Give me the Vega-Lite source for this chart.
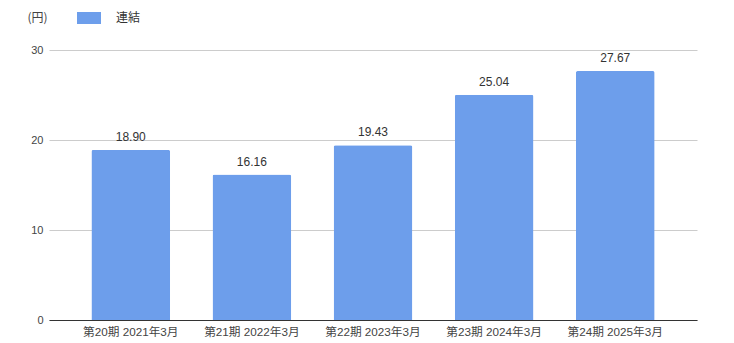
{
  "$schema": "https://vega.github.io/schema/vega-lite/v6.json",
  "width": 648,
  "height": 270,
  "autosize": {"type": "none"},
  "padding": {"left": 49, "top": 50, "right": 37, "bottom": 23},
  "background": "white",
  "config": {
    "view": {"stroke": null},
    "font": "Liberation Sans, Noto Sans CJK JP, sans-serif"
  },
  "data": {
    "values": [
      {"period": "第20期 2021年3月", "series": "連結", "value": 18.90},
      {"period": "第21期 2022年3月", "series": "連結", "value": 16.16},
      {"period": "第22期 2023年3月", "series": "連結", "value": 19.43},
      {"period": "第23期 2024年3月", "series": "連結", "value": 25.04},
      {"period": "第24期 2025年3月", "series": "連結", "value": 27.67}
    ]
  },
  "encoding": {
    "x": {
      "field": "period",
      "type": "nominal",
      "sort": null,
      "scale": {"paddingInner": 0.35, "paddingOuter": 0.35},
      "axis": {
        "title": null,
        "labelAngle": 0,
        "ticks": false,
        "domainColor": "#333333",
        "labelColor": "#444444",
        "labelFontSize": 11.7,
        "labelPadding": 6,
        "labelFont": "Liberation Sans, Noto Sans CJK JP, sans-serif"
      }
    },
    "y": {
      "field": "value",
      "type": "quantitative",
      "scale": {"domain": [0, 30]},
      "axis": {
        "title": "(円)",
        "titleAngle": 0,
        "titleAlign": "left",
        "titleBaseline": "middle",
        "titleX": -22,
        "titleY": -33,
        "titleFontSize": 12,
        "titleFontWeight": "normal",
        "titleColor": "#444444",
        "titleFont": "Noto Sans CJK JP, sans-serif",
        "values": [0, 10, 20, 30],
        "ticks": false,
        "domain": false,
        "gridColor": "#cccccc",
        "labelColor": "#444444",
        "labelFontSize": 11,
        "labelPadding": 6
      }
    }
  },
  "layer": [
    {
      "mark": {"type": "bar", "cornerRadiusTopLeft": 2, "cornerRadiusTopRight": 2},
      "encoding": {
        "color": {
          "field": "series",
          "type": "nominal",
          "scale": {"range": ["#6d9eeb"]},
          "legend": {
            "title": null,
            "orient": "none",
            "legendX": 28,
            "legendY": -44,
            "symbolType": "M-1,-0.5H1V0.5H-1Z",
            "symbolSize": 576,
            "symbolStrokeWidth": 0,
            "symbolOpacity": 1,
            "labelFontSize": 12,
            "labelColor": "#333333",
            "labelOffset": 15,
            "labelFont": "Noto Sans CJK JP, sans-serif"
          }
        }
      }
    },
    {
      "mark": {
        "type": "text",
        "baseline": "bottom",
        "dy": -6,
        "fontSize": 12,
        "color": "#333333"
      },
      "encoding": {
        "text": {"field": "value", "type": "quantitative", "format": ".2f"}
      }
    }
  ]
}
